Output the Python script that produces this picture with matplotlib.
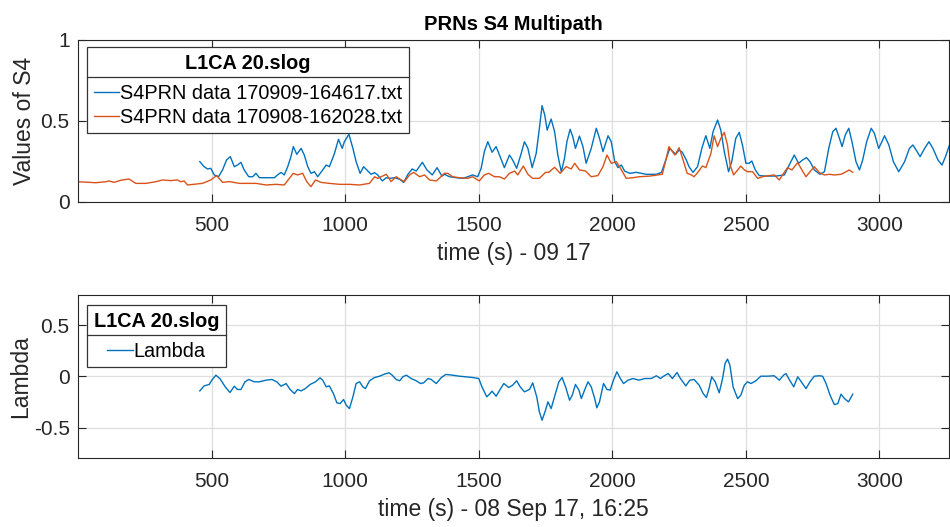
import matplotlib
matplotlib.use('Agg')
import matplotlib.pyplot as plt
from matplotlib.lines import Line2D

plt.rcParams['font.family'] = ['Liberation Sans', 'DejaVu Sans']

BLUE = '#0072BD'
ORANGE = '#D95319'
AXCOL = '#262626'
GRIDCOL = '#dedede'

# S4 from S4PRN data 170909-164617.txt
t_s4_0909 = [456, 472, 485, 497, 510, 526, 541, 556, 570, 585, 597, 610, 622, 639, 654, 666,
             679, 710, 735, 747, 760, 772, 785, 797, 806, 819, 835, 847, 860, 872, 885, 897,
             916, 929, 941, 960, 975, 989, 997, 1014, 1029, 1041, 1056, 1069, 1081, 1097, 1110,
             1122, 1139, 1154, 1166, 1185, 1204, 1219, 1235, 1251, 1266, 1289, 1306, 1326, 1344,
             1362, 1372, 1390, 1415, 1440, 1459, 1477, 1496, 1509, 1521, 1534, 1550, 1565, 1580,
             1596, 1615, 1627, 1642, 1659, 1671, 1684, 1700, 1715, 1727, 1737, 1747, 1756, 1771,
             1784, 1796, 1809, 1821, 1830, 1842, 1852, 1862, 1877, 1890, 1902, 1921, 1940, 1952,
             1965, 1984, 1996, 2009, 2021, 2034, 2046, 2065, 2090, 2127, 2165, 2184, 2200, 2215,
             2227, 2237, 2250, 2262, 2277, 2287, 2302, 2319, 2335, 2350, 2365, 2377, 2394, 2406,
             2419, 2435, 2447, 2462, 2475, 2487, 2500, 2512, 2522, 2535, 2550, 2575, 2612, 2644,
             2662, 2681, 2697, 2712, 2727, 2740, 2756, 2777, 2794, 2810, 2825, 2837, 2850, 2860,
             2872, 2885, 2897, 2912, 2925, 2937, 2952, 2969, 2981, 2997, 3006, 3019, 3035, 3052,
             3072, 3094, 3112, 3125, 3137, 3152, 3169, 3185, 3200, 3219, 3234, 3247, 3262]
s4_0909 = [0.249, 0.218, 0.204, 0.208, 0.167, 0.156, 0.198, 0.259, 0.280, 0.218, 0.228, 0.245,
           0.198, 0.156, 0.156, 0.177, 0.150, 0.150, 0.150, 0.167, 0.183, 0.167, 0.218, 0.280,
           0.342, 0.294, 0.331, 0.290, 0.218, 0.177, 0.187, 0.156, 0.198, 0.228, 0.218, 0.300,
           0.387, 0.331, 0.372, 0.418, 0.331, 0.249, 0.177, 0.218, 0.198, 0.171, 0.181, 0.167,
           0.130, 0.150, 0.146, 0.150, 0.140, 0.121, 0.171, 0.204, 0.191, 0.245, 0.198, 0.167,
           0.212, 0.160, 0.171, 0.156, 0.150, 0.146, 0.156, 0.167, 0.156, 0.208, 0.311, 0.372,
           0.307, 0.342, 0.280, 0.212, 0.290, 0.259, 0.208, 0.300, 0.372, 0.331, 0.212, 0.300,
           0.455, 0.595, 0.537, 0.444, 0.512, 0.434, 0.290, 0.187, 0.270, 0.372, 0.449, 0.403,
           0.331, 0.407, 0.342, 0.239, 0.331, 0.455, 0.393, 0.311, 0.409, 0.372, 0.249, 0.212,
           0.228, 0.191, 0.177, 0.183, 0.171, 0.171, 0.183, 0.259, 0.331, 0.311, 0.294, 0.321,
           0.307, 0.259, 0.218, 0.183, 0.218, 0.331, 0.409, 0.331, 0.434, 0.506, 0.444, 0.311,
           0.187, 0.249, 0.393, 0.430, 0.352, 0.239, 0.239, 0.253, 0.198, 0.163, 0.160, 0.160,
           0.167, 0.228, 0.290, 0.239, 0.259, 0.274, 0.249, 0.198, 0.171, 0.187, 0.331, 0.434,
           0.455, 0.393, 0.342, 0.414, 0.455, 0.372, 0.249, 0.198, 0.259, 0.372, 0.455, 0.424,
           0.331, 0.362, 0.409, 0.352, 0.249, 0.187, 0.249, 0.331, 0.352, 0.321, 0.280, 0.331,
           0.372, 0.331, 0.259, 0.228, 0.280, 0.352]

# S4 from S4PRN data 170908-162028.txt
t_s4_0908 = [0, 66, 104, 116, 135, 160, 191, 216, 254, 291, 316, 347, 372, 385, 397, 410, 466,
             497, 519, 541, 566, 604, 666, 704, 741, 772, 791, 806, 822, 841, 856, 872, 889, 910,
             941, 979, 1016, 1054, 1091, 1110, 1122, 1135, 1154, 1172, 1191, 1210, 1222, 1241,
             1256, 1279, 1297, 1316, 1341, 1352, 1371, 1384, 1402, 1427, 1459, 1477, 1502, 1521,
             1537, 1559, 1577, 1596, 1615, 1634, 1646, 1667, 1684, 1702, 1727, 1750, 1762, 1784,
             1805, 1827, 1846, 1859, 1877, 1900, 1921, 1946, 1965, 1980, 1996, 2015, 2034, 2052,
             2077, 2102, 2140, 2171, 2187, 2202, 2212, 2234, 2250, 2265, 2280, 2296, 2306, 2322,
             2337, 2350, 2369, 2381, 2394, 2406, 2419, 2431, 2441, 2454, 2469, 2481, 2494, 2506,
             2525, 2544, 2562, 2587, 2606, 2625, 2641, 2656, 2672, 2694, 2712, 2725, 2740, 2756,
             2775, 2794, 2812, 2831, 2856, 2875, 2887, 2900]
s4_0908 = [0.125, 0.119, 0.125, 0.130, 0.121, 0.134, 0.142, 0.115, 0.115, 0.125, 0.136, 0.132,
           0.136, 0.125, 0.130, 0.105, 0.115, 0.136, 0.163, 0.121, 0.126, 0.115, 0.115, 0.105,
           0.109, 0.105, 0.146, 0.177, 0.167, 0.177, 0.126, 0.095, 0.136, 0.121, 0.115, 0.109,
           0.109, 0.105, 0.115, 0.156, 0.146, 0.156, 0.171, 0.126, 0.156, 0.136, 0.126, 0.167,
           0.183, 0.156, 0.167, 0.136, 0.130, 0.146, 0.177, 0.177, 0.156, 0.150, 0.146, 0.156,
           0.130, 0.167, 0.177, 0.156, 0.156, 0.142, 0.177, 0.191, 0.167, 0.222, 0.171, 0.146,
           0.146, 0.183, 0.183, 0.214, 0.177, 0.218, 0.204, 0.239, 0.198, 0.191, 0.156, 0.163,
           0.218, 0.290, 0.239, 0.249, 0.198, 0.146, 0.150, 0.156, 0.160, 0.167, 0.171, 0.270,
           0.342, 0.290, 0.335, 0.259, 0.177, 0.167, 0.156, 0.187, 0.222, 0.212, 0.300, 0.409,
           0.342, 0.393, 0.430, 0.352, 0.228, 0.167, 0.198, 0.222, 0.198, 0.187, 0.187, 0.146,
           0.156, 0.163, 0.167, 0.136, 0.177, 0.212, 0.198, 0.243, 0.191, 0.156, 0.187, 0.218,
           0.181, 0.167, 0.171, 0.167, 0.171, 0.187, 0.198, 0.183]

# Lambda
t_lambda = [456, 472, 491, 501, 516, 531, 551, 569, 585, 597, 610, 625, 639, 660, 679, 704, 726,
            744, 760, 779, 794, 810, 822, 835, 851, 869, 889, 906, 916, 929, 941, 956, 969, 981,
            994, 1004, 1016, 1029, 1041, 1054, 1066, 1076, 1091, 1110, 1129, 1147, 1164, 1176,
            1191, 1204, 1216, 1229, 1247, 1266, 1282, 1294, 1310, 1322, 1341, 1360, 1377, 1402,
            1427, 1452, 1477, 1500, 1512, 1530, 1540, 1550, 1565, 1580, 1594, 1612, 1627, 1642,
            1655, 1671, 1690, 1702, 1717, 1727, 1737, 1750, 1759, 1771, 1787, 1800, 1812, 1825,
            1840, 1850, 1862, 1875, 1884, 1896, 1909, 1921, 1934, 1942, 1952, 1967, 1980, 1992,
            2002, 2017, 2030, 2042, 2059, 2077, 2100, 2121, 2146, 2165, 2180, 2192, 2209, 2225,
            2242, 2255, 2275, 2290, 2306, 2325, 2340, 2352, 2362, 2372, 2385, 2400, 2412, 2422,
            2431, 2440, 2452, 2469, 2481, 2494, 2506, 2519, 2537, 2556, 2581, 2606, 2625, 2641,
            2650, 2662, 2679, 2694, 2712, 2725, 2740, 2756, 2775, 2787, 2800, 2815, 2831, 2844,
            2856, 2869, 2884, 2900]
lambda_vals = [-0.141, -0.092, -0.078, -0.036, 0.013, -0.020, -0.101, -0.157, -0.095, -0.127,
               -0.127, -0.052, -0.029, -0.052, -0.052, -0.036, -0.029, -0.052, -0.095, -0.069,
               -0.127, -0.167, -0.127, -0.141, -0.118, -0.078, -0.052, -0.013, -0.036, -0.101,
               -0.092, -0.167, -0.258, -0.265, -0.225, -0.281, -0.314, -0.199, -0.069, -0.052,
               -0.101, -0.118, -0.042, -0.010, 0.003, 0.023, 0.036, 0.013, -0.029, -0.042,
               -0.003, 0.013, -0.020, -0.042, -0.069, -0.062, -0.020, -0.029, -0.069, -0.010,
               0.020, 0.013, 0.003, -0.003, -0.010, -0.020, -0.101, -0.199, -0.173, -0.144,
               -0.193, -0.127, -0.069, -0.108, -0.085, -0.042, -0.101, -0.150, -0.127, -0.062,
               -0.199, -0.346, -0.428, -0.330, -0.248, -0.314, -0.167, -0.052, -0.010, -0.101,
               -0.232, -0.183, -0.078, -0.134, -0.216, -0.134, -0.052, -0.101, -0.216, -0.307,
               -0.248, -0.069, -0.127, -0.134, -0.052, 0.046, -0.020, -0.069, -0.036, -0.020,
               -0.036, -0.020, -0.020, 0.007, -0.020, 0.003, 0.029, -0.020, 0.039, -0.020,
               -0.092, -0.036, -0.029, -0.085, -0.167, -0.206, -0.118, -0.003, -0.052, -0.160,
               -0.029, 0.127, 0.170, 0.111, -0.101, -0.216, -0.183, -0.085, -0.052, -0.069,
               -0.042, 0.003, 0.003, 0.007, -0.036, 0.013, 0.029, -0.029, -0.101, -0.003,
               -0.069, -0.118, -0.052, 0.003, 0.007, 0.003, -0.069, -0.183, -0.275, -0.265,
               -0.173, -0.216, -0.248, -0.173]

XLIM = (0, 3260)
XTICKS = [500, 1000, 1500, 2000, 2500, 3000]
TICK_FS = 15
LABEL_FS = 16.5
LEG_FS = 14.3


def style_axes(ax):
    ax.set_xlim(XLIM)
    ax.set_xticks(XTICKS)
    ax.grid(True, color=GRIDCOL, linewidth=0.9)
    ax.set_axisbelow(True)
    ax.tick_params(direction='in', length=5.5, width=0.8, top=True, right=True,
                   labelsize=TICK_FS, colors=AXCOL)
    ax.tick_params(axis='x', pad=10)
    ax.tick_params(axis='y', pad=6)
    for sp in ax.spines.values():
        sp.set_color(AXCOL)
        sp.set_linewidth(0.8)


def matlab_legend(ax, anchor):
    leg = ax.legend(title='L1CA 20.slog', loc='upper left', bbox_to_anchor=anchor,
                    borderaxespad=0, fancybox=False, framealpha=1, edgecolor='#333333',
                    fontsize=LEG_FS, handlelength=1.3, handletextpad=0.05,
                    borderpad=0.33, labelspacing=0.25,
                    title_fontproperties={'weight': 'bold', 'size': LEG_FS})
    leg.get_frame().set_linewidth(0.9)
    leg._legend_box.sep = 8
    return leg


fig = plt.figure(figsize=(9.5, 5.27), dpi=100)
ax1 = fig.add_axes([0.0821, 0.6167, 0.9168, 0.3074])
ax2 = fig.add_axes([0.0821, 0.1304, 0.9168, 0.3104])

ax1.plot(t_s4_0909, s4_0909, color=BLUE, lw=1.0, label='S4PRN data 170909-164617.txt')
ax1.plot(t_s4_0908, s4_0908, color=ORANGE, lw=1.0, label='S4PRN data 170908-162028.txt')
style_axes(ax1)
ax1.set_ylim(0, 1)
ax1.set_yticks([0, 0.5, 1])
ax1.set_yticklabels(['0', '0.5', '1'])
ax1.set_ylabel('Values of S4', fontsize=LABEL_FS, color=AXCOL, labelpad=3)
ax1.set_xlabel('time (s) - 09 17', fontsize=LABEL_FS, color=AXCOL, labelpad=5)
ax1.set_title('PRNs S4 Multipath', fontsize=14.5, fontweight='bold', color='black', pad=7)
leg1 = matlab_legend(ax1, (0.0103, 0.957))

ax2.plot(t_lambda, lambda_vals, color=BLUE, lw=1.0, label='Lambda')
style_axes(ax2)
ax2.set_ylim(-0.8, 0.8)
ax2.set_yticks([-0.5, 0, 0.5])
ax2.set_yticklabels(['-0.5', '0', '0.5'])
ax2.set_ylabel('Lambda', fontsize=LABEL_FS, color=AXCOL, labelpad=1)
ax2.set_xlabel('time (s) - 08 Sep 17, 16:25', fontsize=LABEL_FS, color=AXCOL, labelpad=5)
leg2 = matlab_legend(ax2, (0.0103, 0.937))

# separator line under each legend title
fig.canvas.draw()
inv = fig.transFigure.inverted()
for leg in (leg1, leg2):
    fb = leg.get_frame().get_window_extent()
    tb = leg.get_title().get_window_extent()
    y = tb.y0 - 4
    (x0, yf), (x1, _) = inv.transform([(fb.x0, y), (fb.x1, y)])
    fig.add_artist(Line2D([x0, x1], [yf, yf], color='#333333', lw=0.9))

fig.savefig('out.png', dpi=100)
